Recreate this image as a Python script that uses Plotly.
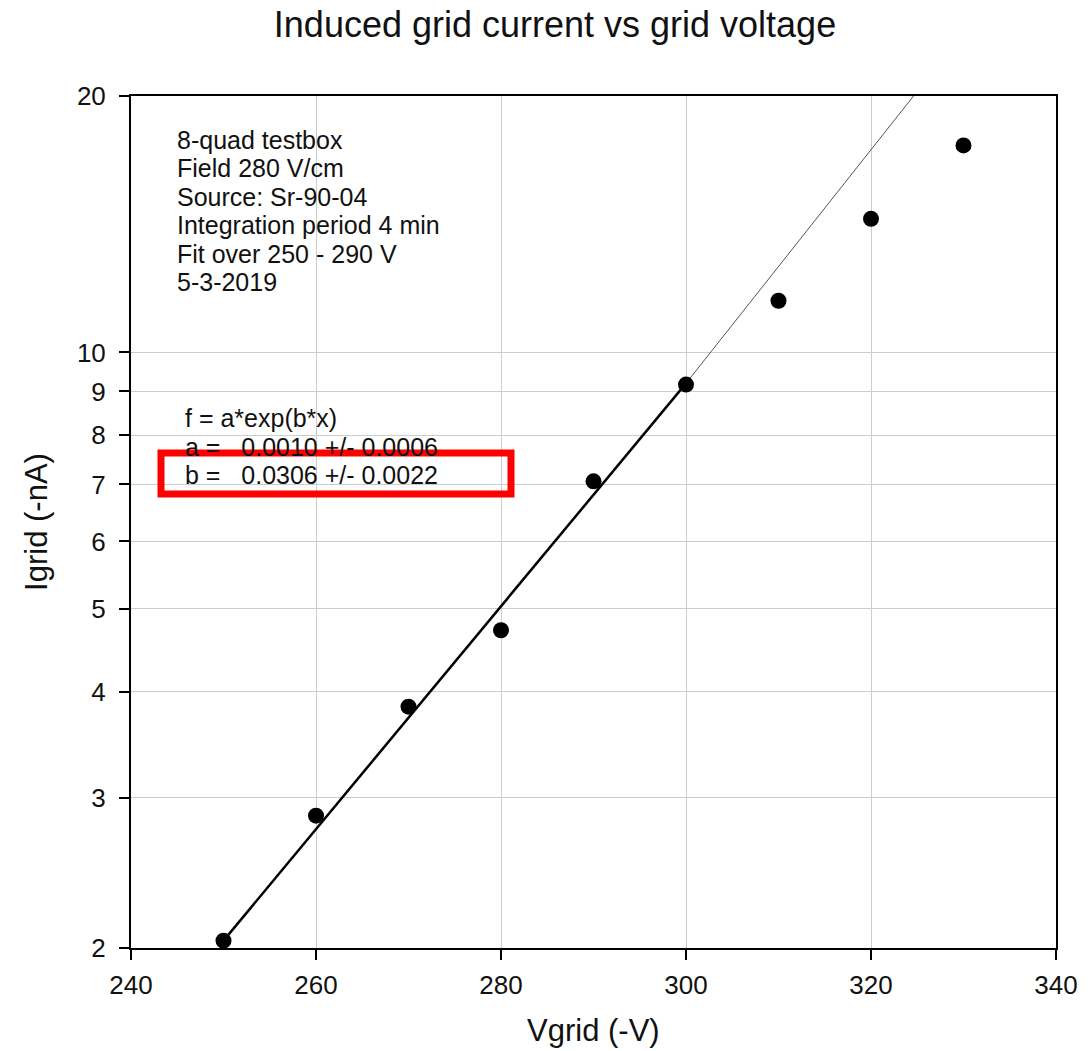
import plotly.graph_objects as go

# Measured data (Vgrid in -V, Igrid in -nA)
vgrid = [250, 260, 270, 280, 290, 300, 310, 320, 330]
igrid = [2.04, 2.86, 3.84, 4.72, 7.06, 9.17, 11.5, 14.35, 17.5]

# Fit line (exponential -> straight on log axis)
fit_x = [250, 300]
fit_y = [2.04, 9.2]
ext_x = [300, 324.6]
ext_y = [9.2, 20]

x_ticks = [240, 260, 280, 300, 320, 340]
y_ticks = [2, 3, 4, 5, 6, 7, 8, 9, 10, 20]

info_lines = ["8-quad testbox", "Field 280 V/cm", "Source: Sr-90-04",
              "Integration period 4 min", "Fit over 250 - 290 V", "5-3-2019"]
fit_lines = ["f = a*exp(b*x)",
             "a =\u00a0\u00a0\u00a00.0010 +/- 0.0006",
             "b =\u00a0\u00a0\u00a00.0306 +/- 0.0022"]

FONT = "Arial, 'Liberation Sans', sans-serif"
W, H = 1091, 1051
L, R, T, B = 131, 35, 96, 103
PW, PH = W - L - R, H - T - B

def px_x(px):
    return (px - L) / PW

def px_y(py):
    return (H - B - py) / PH

fig = go.Figure()
fig.add_trace(go.Scatter(x=ext_x, y=ext_y, mode="lines",
                         line=dict(color="#555555", width=1), showlegend=False))
fig.add_trace(go.Scatter(x=fit_x, y=fit_y, mode="lines",
                         line=dict(color="black", width=2.5), showlegend=False))
fig.add_trace(go.Scatter(x=vgrid, y=igrid, mode="markers",
                         marker=dict(color="black", size=16), showlegend=False))

annotations = []
info_y = [139.5, 168, 196.5, 225, 253.5, 282]
for t, yy in zip(info_lines, info_y):
    annotations.append(dict(text=t, xref="paper", yref="paper", x=px_x(175), y=px_y(yy),
                            xanchor="left", yanchor="middle", showarrow=False,
                            font=dict(family=FONT, size=25, color="#111111")))
fit_y_px = [418, 446.5, 475]
for t, yy in zip(fit_lines, fit_y_px):
    annotations.append(dict(text=t, xref="paper", yref="paper", x=px_x(183), y=px_y(yy),
                            xanchor="left", yanchor="middle", showarrow=False,
                            font=dict(family=FONT, size=25, color="#111111")))
# x-axis title, placed low as in the reference
annotations.append(dict(text="Vgrid (-V)", xref="paper", yref="paper", x=px_x(593), y=px_y(1030),
                        xanchor="center", yanchor="middle", showarrow=False,
                        font=dict(family=FONT, size=31, color="#111111")))

fig.update_layout(
    width=W, height=H,
    margin=dict(l=L, r=R, t=T, b=B),
    paper_bgcolor="white", plot_bgcolor="white",
    font=dict(family=FONT, color="#111111"),
    title=dict(text="Induced grid current vs grid voltage", x=555 / W, xref="container",
               y=1 - 24 / H, yref="container", xanchor="center", yanchor="middle",
               font=dict(family=FONT, size=36, color="#111111")),
    xaxis=dict(range=[240, 340], tickvals=x_ticks, ticks="outside", ticklen=10, tickwidth=2,
               tickcolor="black", showline=True, linecolor="black", linewidth=2, mirror=True,
               showgrid=True, gridcolor="#cccccc", gridwidth=1, zeroline=False,
               automargin=False, ticklabelstandoff=3,
               tickfont=dict(family=FONT, size=26, color="#111111")),
    yaxis=dict(type="log", range=[0.30103, 1.30103], tickvals=y_ticks,
               ticktext=[str(v) for v in y_ticks],
               ticks="outside", ticklen=10, tickwidth=2, tickcolor="black",
               showline=True, linecolor="black", linewidth=2, mirror=True,
               showgrid=True, gridcolor="#cccccc", gridwidth=1, zeroline=False,
               automargin=False, ticklabelstandoff=8,
               tickfont=dict(family=FONT, size=26, color="#111111"),
               title=dict(text="Igrid (-nA)", font=dict(family=FONT, size=31, color="#111111"),
                          standoff=20)),
    annotations=annotations,
    shapes=[dict(type="rect", xref="paper", yref="paper",
                 x0=px_x(161), x1=px_x(511), y0=px_y(494), y1=px_y(453),
                 line=dict(color="#ff0000", width=7), fillcolor="rgba(0,0,0,0)", layer="above")],
)

fig.write_html("out.html")
